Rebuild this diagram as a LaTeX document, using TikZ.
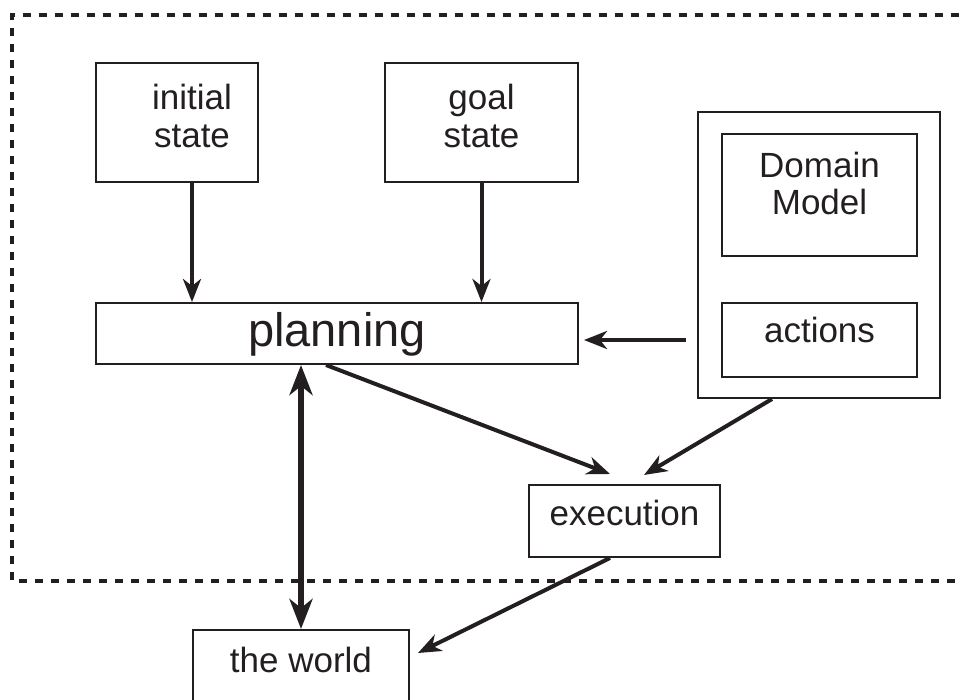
\documentclass[tikz,border=0pt]{standalone}
\usepackage{fontspec}
\setmainfont{Liberation Sans}
\usetikzlibrary{arrows.meta}
\definecolor{ink}{HTML}{231F20}
\begin{document}
\begin{tikzpicture}[x=1pt,y=-1pt,
  box/.style={draw=ink, line width=2pt, text=ink, align=center, inner sep=0pt,
    font=\fontsize{35pt}{38pt}\selectfont},
  arr/.style={draw=ink, line width=4pt, -{Stealth[length=23pt,width=18pt,inset=7pt]}},
  bigarr/.style={draw=ink, line width=6.5pt,
    {Stealth[length=30pt,width=23pt,inset=9pt]}-{Stealth[length=30pt,width=23pt,inset=9pt]}},
  frame/.style={draw=ink, line width=4pt, dash pattern=on 8pt off 8pt}]
\useasboundingbox (0,0) rectangle (961,700);

% dashed system boundary, open to the right
\draw[frame] (975,15) -- (12,15) -- (12,581) -- (975,581);

% boxes
\node[box, minimum width=162pt, minimum height=119pt, text height=63pt, text depth=12pt]
  (init) at (177,122.5) {\hspace*{30pt}initial\\\hspace*{30pt}state};
\node[box, minimum width=193pt, minimum height=119pt, text height=63pt, text depth=12pt]
  (goal) at (481.5,122.5) {goal\\state};
\node[draw=ink, line width=2pt, minimum width=242pt, minimum height=286pt, inner sep=0pt]
  (dm) at (819,255) {};
\node[box, minimum width=195pt, minimum height=122pt, text height=62pt, text depth=22pt,
  font=\fontsize{35pt}{37pt}\selectfont]
  (model) at (819.5,195) {Domain\\Model};
\node[box, minimum width=195pt, minimum height=74pt, text height=25pt, text depth=19pt]
  (act) at (819.5,340) {actions};
\node[box, minimum width=482pt, minimum height=61pt, text height=34pt, text depth=7pt,
  font=\fontsize{47pt}{50pt}\selectfont]
  (plan) at (337,333.5) {planning};
\node[box, minimum width=191pt, minimum height=72pt, text height=25pt, text depth=17pt]
  (exec) at (624.5,521) {execution};
\node[box, minimum width=216pt, minimum height=82pt, text height=25pt, text depth=23pt]
  (world) at (301,671) {the world};

% connectors
\coordinate (ia) at ([xshift=15pt]init.south);
\draw[arr] (ia) -- (ia |- plan.north);
\draw[arr] (goal.south) -- (goal.south |- plan.north);
\draw[arr, shorten <=11pt, shorten >=5pt] (act.center -| dm.west) -- (act.center -| plan.east);
\draw[bigarr] (world.north) -- (world.north |- plan.south);
\draw[arr] ([xshift=-11pt]plan.south) -- ([xshift=-14.5pt,yshift=10pt]exec.north);
\draw[arr] ([xshift=-47pt]dm.south) -- ([xshift=19.5pt,yshift=9pt]exec.north);
\draw[arr] ([xshift=-14.5pt]exec.south) -- ([xshift=8pt,yshift=18pt]world.east);
\end{tikzpicture}
\end{document}
